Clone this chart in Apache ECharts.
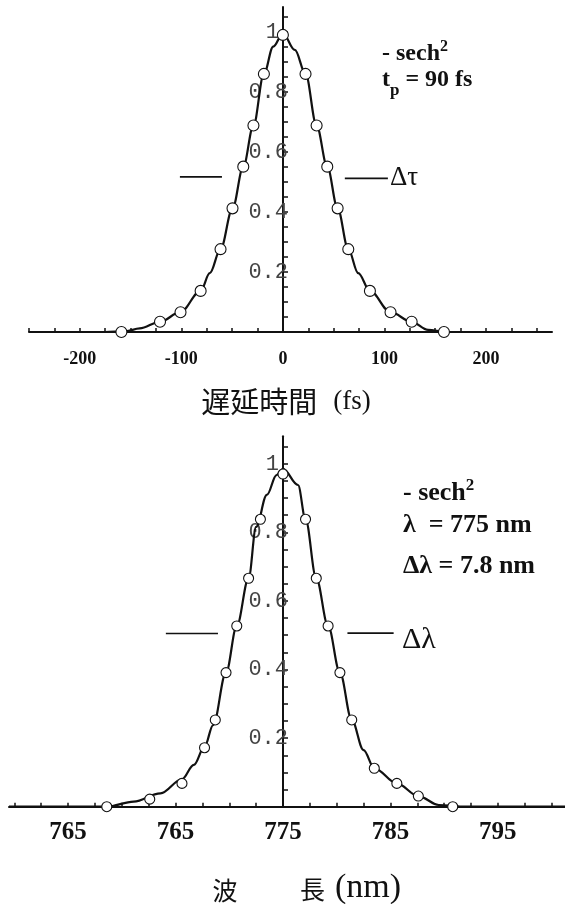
<!DOCTYPE html>
<html><head><meta charset="utf-8">
<script src="https://cdn.jsdelivr.net/npm/echarts@6/dist/echarts.min.js"></script>
<style>html,body{margin:0;padding:0;background:#fff}#c{width:565px;height:904px}</style>
</head><body><div id="c"></div>
<script>
// ---------- data (top: autocorrelation vs delay) ----------
const topCurve = [[-250,0],[-175,0],[-155,0.002],[-141,0.012],[-121,0.034],[-101,0.066],[-81,0.137],[-72,0.196],[-61.4,0.276],[-49.6,0.412],[-39,0.551],[-29,0.688],[-18.7,0.86],[-9.5,0.951],[0,0.995],[11.8,0.94],[22.3,0.86],[33.2,0.688],[43.7,0.551],[53.9,0.412],[64.4,0.276],[74.2,0.196],[85.7,0.137],[106,0.066],[126.8,0.034],[143,0.007],[160,0],[265,0]];
const topPoints = [[-159,0],[-121,0.034],[-100.8,0.066],[-81,0.137],[-61.4,0.276],[-49.6,0.412],[-39,0.551],[-29,0.688],[-18.7,0.86],[0,0.99],[22.3,0.86],[33.2,0.688],[43.7,0.551],[53.9,0.412],[64.4,0.276],[85.7,0.137],[106,0.066],[126.8,0.034],[158.6,0]];
const topFwhmLeft = [[-101.4,0.517],[-60,0.517]];
const topFwhmRight = [[61,0.512],[103.4,0.512]];
const topXTickValues = [-250,-225,-200,-175,-150,-125,-100,-75,-50,-25,0,25,50,75,100,125,150,175,200,225,250];
const topXLabelValues = [-200,-100,0,100,200];

// ---------- data (bottom: spectrum vs wavelength) ----------
const botCurve = [[749.5,0],[758.6,0],[761.1,0.015],[763.6,0.039],[765.6,0.08],[766.7,0.122],[767.7,0.175],[768.5,0.238],[769.7,0.391],[770.7,0.527],[771.8,0.666],[772.5,0.816],[773.5,0.909],[774.4,0.967],[775,0.985],[776.4,0.938],[777.1,0.838],[778.1,0.666],[779.2,0.527],[780.3,0.391],[781.4,0.253],[782.5,0.165],[783.5,0.112],[785.6,0.068],[787.6,0.031],[789.5,0.005],[792,0],[801.25,0]];
const botPoints = [[758.6,0],[762.6,0.022],[765.6,0.068],[767.7,0.172],[768.7,0.253],[769.7,0.391],[770.7,0.527],[771.8,0.666],[772.9,0.838],[775,0.97],[777.1,0.838],[778.1,0.666],[779.2,0.527],[780.3,0.391],[781.4,0.253],[783.5,0.112],[785.6,0.068],[787.6,0.031],[790.8,0]];
const botFwhmLeft = [[764.1,0.505],[768.95,0.505]];
const botFwhmRight = [[781.0,0.506],[785.3,0.506]];
const botXTickValues = [750,752.5,755,757.5,760,762.5,765,767.5,770,772.5,775,777.5,780,782.5,785,787.5,790,792.5,795,797.5,800];
const botXLabelValues = [755,765,775,785,795];
const botXLabelText = ['765','765','775','785','795'];

const yTickValues = [0.05,0.1,0.15,0.2,0.25,0.3,0.35,0.4,0.45,0.5,0.55,0.6,0.65,0.7,0.75,0.8,0.85,0.9,0.95,1,1.05];
const yLabelValues = [0.2,0.4,0.6,0.8,1];

const INK = '#111';
const chart = echarts.init(document.getElementById('c'), null, {renderer:'canvas'});

function yAxisCfg(gridIndex, max, offset){
  return {
    type:'value', gridIndex, min:0, max, position:'left', offset,
    splitLine:{show:false},
    axisLine:{show:true, onZero:false, lineStyle:{color:INK, width:2}},
    axisTick:{show:true, inside:true, length:5, lineStyle:{color:INK, width:1.5}, customValues:yTickValues},
    axisLabel:{show:true, inside:false, margin:-5, customValues:yLabelValues,
      fontFamily:'Liberation Mono', fontSize:22, color:'#444',
      formatter: v => (Math.abs(v-1)<1e-9 ? '{one|1}' : String(v)),
      rich:{one:{fontFamily:'Liberation Mono', fontSize:22, color:'#444', padding:[0,9,0,0]}}
    }
  };
}
function lineSeries(x, y, data, width){
  return {type:'line', xAxisIndex:x, yAxisIndex:y, data, showSymbol:false, symbol:'none',
    lineStyle:{color:INK, width}, silent:true, z:3};
}
function smoothSeries(x, y, data){
  return {type:'line', xAxisIndex:x, yAxisIndex:y, data, showSymbol:false, symbol:'none',
    smooth:0.35, smoothMonotone:'x', lineStyle:{color:INK, width:2.2}, z:4};
}
function pointSeries(x, y, data, size){
  return {type:'scatter', xAxisIndex:x, yAxisIndex:y, data, symbol:'circle', symbolSize:size,
    itemStyle:{color:'#fff', opacity:1, borderColor:INK, borderWidth:1.1}, z:5};
}

const option = {
  animation:false,
  backgroundColor:'#fff',
  grid:[
    {left:29, top:7, width:523, height:325, containLabel:false, outerBoundsMode:'none'},
    {left:9, top:436.3, width:556, height:370.4, containLabel:false, outerBoundsMode:'none'}
  ],
  xAxis:[
    {type:'value', gridIndex:0, min:-250, max:265,
      splitLine:{show:false},
      axisLine:{show:true, onZero:true, lineStyle:{color:INK, width:2}},
      axisTick:{show:true, inside:true, length:4, lineStyle:{color:INK, width:1.5}, customValues:topXTickValues},
      axisLabel:{show:true, margin:18, customValues:topXLabelValues,
        fontFamily:'Liberation Serif', fontWeight:'bold', fontSize:18, color:INK}
    },
    {type:'value', gridIndex:1, min:749.5, max:801.25,
      splitLine:{show:false},
      axisLine:{show:true, onZero:true, lineStyle:{color:INK, width:2}},
      axisTick:{show:true, inside:true, length:4, lineStyle:{color:INK, width:1.5}, customValues:botXTickValues},
      axisLabel:{show:true, margin:13, customValues:botXLabelValues,
        formatter: v => { const i = botXLabelValues.findIndex(b => Math.abs(b-v)<1e-6); return i>=0 ? botXLabelText[i] : ''; },
        fontFamily:'Liberation Serif', fontWeight:'bold', fontSize:25, color:INK}
    }
  ],
  yAxis:[ yAxisCfg(0, 1.083, -254), yAxisCfg(1, 1.08, -274) ],
  series:[
    smoothSeries(0,0,topCurve),
    pointSeries(0,0,topPoints,11),
    lineSeries(0,0,topFwhmLeft,1.6),
    lineSeries(0,0,topFwhmRight,1.6),
    smoothSeries(1,1,botCurve),
    pointSeries(1,1,botPoints,10),
    lineSeries(1,1,botFwhmLeft,1.6),
    lineSeries(1,1,botFwhmRight,1.6)
  ],
  graphic:[
    // top annotations
    {type:'text', style:{x:382, y:54, verticalAlign:'middle', text:'{m|- sech}{sup|2}',
      rich:{m:{fontFamily:'Liberation Serif', fontWeight:'bold', fontSize:24, lineHeight:30, fill:INK},
            sup:{fontFamily:'Liberation Serif', fontWeight:'bold', fontSize:16, lineHeight:16, verticalAlign:'top', fill:INK}}}},
    {type:'text', style:{x:382, y:80, verticalAlign:'middle', text:'{m|t}{sub|p}{m| = 90 fs}',
      rich:{m:{fontFamily:'Liberation Serif', fontWeight:'bold', fontSize:24, lineHeight:38, fill:INK},
            sub:{fontFamily:'Liberation Serif', fontWeight:'bold', fontSize:17, lineHeight:17, verticalAlign:'bottom', fill:INK}}}},
    {type:'text', style:{x:390, y:178, verticalAlign:'middle', text:'Δτ',
      font:'27px "Liberation Serif"', fill:INK}},
    {type:'text', style:{x:286, y:402, align:'center', verticalAlign:'middle', text:'{c|遅延時間}{l|(fs)}',
      rich:{c:{fontFamily:'Noto Sans CJK JP', fontSize:29, fill:INK},
            l:{fontFamily:'Liberation Serif', fontSize:27, padding:[0,0,0,16], fill:INK}}}},
    // bottom annotations
    {type:'text', style:{x:403, y:493, verticalAlign:'middle', text:'{m|- sech}{sup|2}',
      rich:{m:{fontFamily:'Liberation Serif', fontWeight:'bold', fontSize:26, lineHeight:32, fill:INK},
            sup:{fontFamily:'Liberation Serif', fontWeight:'bold', fontSize:17, lineHeight:17, verticalAlign:'top', fill:INK}}}},
    {type:'text', style:{x:403, y:525, verticalAlign:'middle', text:'λ  = 775 nm',
      font:'bold 26px "Liberation Serif"', fill:INK}},
    {type:'text', style:{x:403, y:566, verticalAlign:'middle', text:'Δλ = 7.8 nm',
      font:'bold 26px "Liberation Serif"', fill:INK}},
    {type:'text', style:{x:402, y:640, verticalAlign:'middle', text:'Δλ',
      font:'30px "Liberation Serif"', fill:INK}},
    {type:'text', style:{x:225, y:890, align:'center', verticalAlign:'middle', text:'波',
      font:'25px "Noto Sans CJK JP"', fill:INK}},
    {type:'text', style:{x:300, y:888, verticalAlign:'middle', text:'{c|長}{l|(nm)}',
      rich:{c:{fontFamily:'Noto Sans CJK JP', fontSize:25, fill:INK, padding:[2,0,0,0]},
            l:{fontFamily:'Liberation Serif', fontSize:34, padding:[0,0,0,10], fill:INK}}}}
  ]
};
chart.setOption(option);
</script>
</body></html>
